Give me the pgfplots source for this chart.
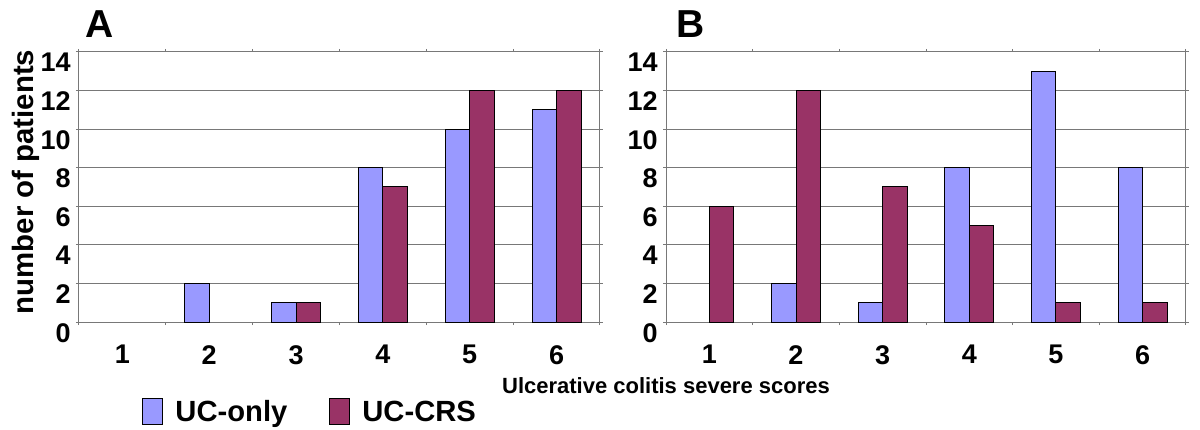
\documentclass[border=0pt]{standalone}
\usepackage{fontspec}
\setmainfont{Liberation Sans}
\usepackage{pgfplots}
\pgfplotsset{compat=1.18}
\definecolor{ucblue}{HTML}{9999FF}
\definecolor{ucred}{HTML}{993366}
\definecolor{gridc}{HTML}{787878}
\pgfplotsset{
  panel/.style={
    scale only axis, height=135pt,
    ybar=0pt, bar width=12.25pt,
    xmin=0.5, xmax=6.5, ymin=0, ymax=14,
    xtick={1,...,6}, ytick={0,2,...,14},
    minor xtick={0.5,1.5,...,6.5},
    major x tick style={draw=none},
    minor x tick style={draw=gridc, line width=0.5pt},
    ytick style={draw=gridc, line width=0.5pt},
    tick align=outside, major tick length=1.5pt, minor tick length=1.5pt,
    ymajorgrids, grid style={gridc, line width=0.5pt},
    axis line style={gridc, line width=0.5pt},
    /pgf/number format/assume math mode=true,
    tick label style={font=\fontsize{13.5}{15}\selectfont\bfseries},
    xticklabel style={anchor=north, inner sep=0pt, yshift=-10pt},
    yticklabel style={anchor=north east, inner sep=0pt, xshift=-2.5pt, yshift=-0.5pt},
    every axis plot/.append style={draw=black, line width=0.5pt},
    area legend,
  }
}
\begin{document}
\begin{tikzpicture}
\useasboundingbox (0,0) rectangle (600pt,214.5pt);
\begin{axis}[panel, width=260.5pt, at={(39.5pt,53.5pt)}, anchor=south west,
  legend columns=2,
  legend image code/.code={\draw[#1, draw=black] (0pt,-1.5pt) rectangle (10pt,11.5pt); \path (14pt,0pt);},
  legend style={draw=none, fill=none, inner sep=0pt, at={(0.121,-0.3963)}, anchor=south west,
    cells={anchor=base west},
    font=\fontsize{14.6}{17}\selectfont\bfseries,
    /tikz/every even column/.append style={column sep=19pt}},
]
\addplot[fill=ucblue] coordinates {(2,2) (3,1) (4,8) (5,10) (6,11)};
\addplot[fill=ucred] coordinates {(3,1) (4,7) (5,12) (6,12)};
\legend{UC-only, UC-CRS}
\end{axis}
\begin{axis}[panel, width=260pt, at={(333pt,53.5pt)}, anchor=south west]
\addplot[fill=ucblue] coordinates {(2,2) (3,1) (4,8) (5,13) (6,8)};
\addplot[fill=ucred] coordinates {(1,6) (2,12) (3,7) (4,5) (5,1) (6,1)};
\end{axis}
\node[font=\fontsize{19.5}{22}\selectfont\bfseries, inner sep=0pt] at (49.75pt,202.5pt) {A};
\node[font=\fontsize{19.5}{22}\selectfont\bfseries, inner sep=0pt] at (345.5pt,202.5pt) {B};
\node[font=\fontsize{14.7}{17}\selectfont\bfseries, inner sep=0pt, rotate=90] at (13pt,123.5pt) {number of patients};
\node[font=\fontsize{11}{13}\selectfont\bfseries, inner sep=0pt, anchor=base] at (333pt,18pt) {Ulcerative colitis severe scores};
\end{tikzpicture}
\end{document}
